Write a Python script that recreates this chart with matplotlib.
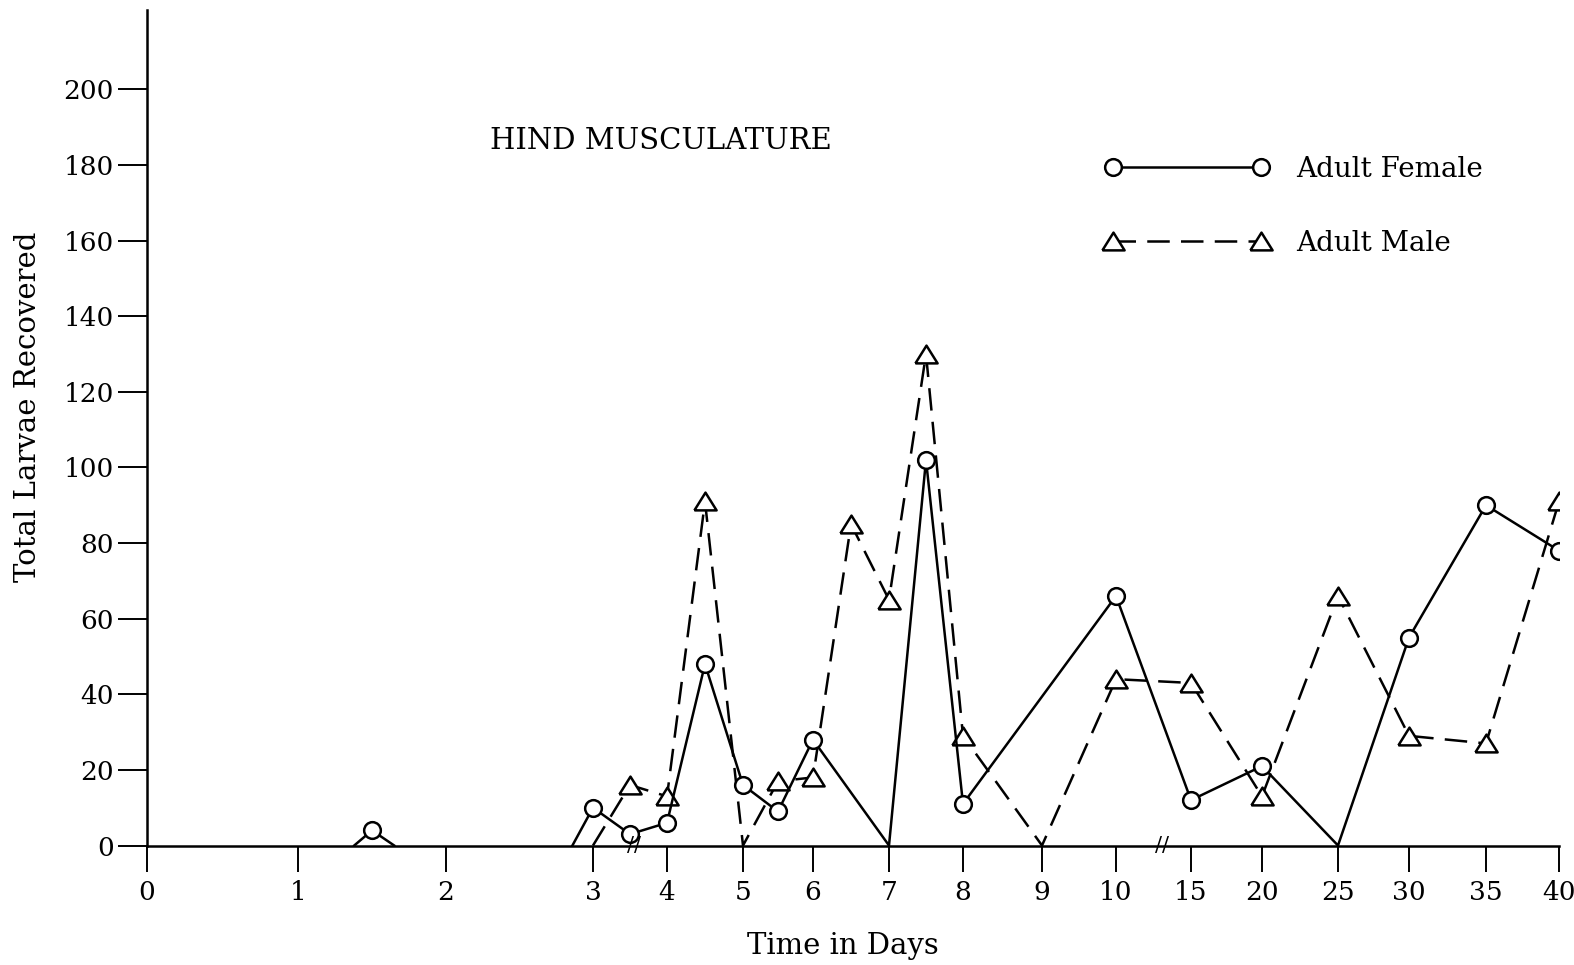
import numpy as np
import matplotlib
matplotlib.use("Agg")
import matplotlib.pyplot as plt
from matplotlib.lines import Line2D

plt.rcParams['font.family'] = ['DejaVu Serif']

# broken time axis: day value -> horizontal spacing on the paper
tick_days = [0, 1, 2, 3, 4, 5, 6, 7, 8, 9, 10, 15, 20, 25, 30, 35, 40]
tick_space = [0, 151, 299, 446, 520, 596, 666, 742, 816, 895, 969,
              1044, 1115, 1191, 1262, 1339, 1412]

# adult female (solid line, circles); nan splits the curve
female_days = [1.38, 1.5, 1.65, np.nan, 2.86, 3, 3.5, 4, 4.5, 5, 5.5, 6,
               7, 7.5, 8, 10, 15, 20, 25, 30, 35, 40]
female_vals = [0, 4, 0, np.nan, 0, 10, 3, 6, 48, 16, 9, 28,
               0, 102, 11, 66, 12, 21, 0, 55, 90, 78]

# adult male (dashed line, triangles)
male_days = [3, 3.5, 4, 4.5, 5, 5.5, 6, 6.5, 7, 7.5, 8, 9,
             10, 15, 20, 25, 30, 35, 40]
male_vals = [0, 16, 13, 91, 0, 17, 18, 85, 65, 130, 29, 0,
             44, 43, 13, 66, 29, 27, 91]

break_days = [3.55, 13.1]


def fwd(d):
    return np.interp(d, tick_days, tick_space)


def inv(p):
    return np.interp(p, tick_space, tick_days)


tri = [(-1, -0.8), (1, -0.8), (0, 0.8), (-1, -0.8)]
FS = 19
LFS = 20

fig = plt.figure(figsize=(15.74, 9.65), dpi=100)
ax = fig.add_axes([0.09339, 0.12383, 0.89708, 0.86580])
ax.set_xscale('function', functions=(fwd, inv))

fv = np.nan_to_num(np.array(female_vals, dtype=float))
mv = np.array(male_vals)

ax.plot(male_days, male_vals, color='black', lw=1.8, dashes=(9, 4.5),
        marker=tri, ms=16, mfc='white', mec='black', mew=1.8,
        markevery=list(mv > 0), zorder=3)
ax.plot(female_days, female_vals, color='black', lw=1.8,
        marker='o', ms=12, mfc='white', mec='black', mew=1.8,
        markevery=list(fv > 0), zorder=4)

for d in break_days:
    ax.text(d, 0, '//', ha='center', va='center', fontsize=15, zorder=5)

ax.set_xlim(0, 40)
ax.set_ylim(0, 221)
ax.set_xticks(tick_days)
ax.set_xticklabels([str(d) for d in tick_days])
ax.set_yticks(np.arange(0, 201, 20))

for s in ['top', 'right']:
    ax.spines[s].set_visible(False)
for s in ['left', 'bottom']:
    ax.spines[s].set_linewidth(1.8)

ax.tick_params(axis='y', length=21, width=1.4, pad=3, labelsize=FS)
ax.tick_params(axis='x', length=19, width=1.4, pad=6, labelsize=FS)

ax.set_xlabel('Time in Days', fontsize=21)
ax.xaxis.label.set_va('center')
ax.xaxis.set_label_coords(0.4929, -0.1203)
ax.set_ylabel('Total Larvae Recovered', fontsize=21)
ax.yaxis.label.set_va('center')
ax.yaxis.set_label_coords(-0.0845, 0.5248)

fig.text(490 / 1574, 1 - 141 / 965, 'HIND MUSCULATURE', fontsize=21,
         ha='left', va='center')

h_f = Line2D([], [], color='black', lw=1.8, marker='o', ms=12,
             mfc='white', mec='black', mew=1.8)
h_m = Line2D([], [], color='black', lw=1.8, dashes=(9, 4.5), marker=tri,
             ms=16, mfc='white', mec='black', mew=1.8)
ax.legend([h_f, h_m], ['Adult Female', 'Adult Male'], numpoints=2,
          handlelength=5.92, handletextpad=0.97, labelspacing=1.69,
          frameon=False, fontsize=LFS, borderpad=0, borderaxespad=0,
          loc='upper left', bbox_to_anchor=(1105 / 1574, 1 - 156 / 965),
          bbox_transform=fig.transFigure)

fig.savefig('out.png', dpi=100)
